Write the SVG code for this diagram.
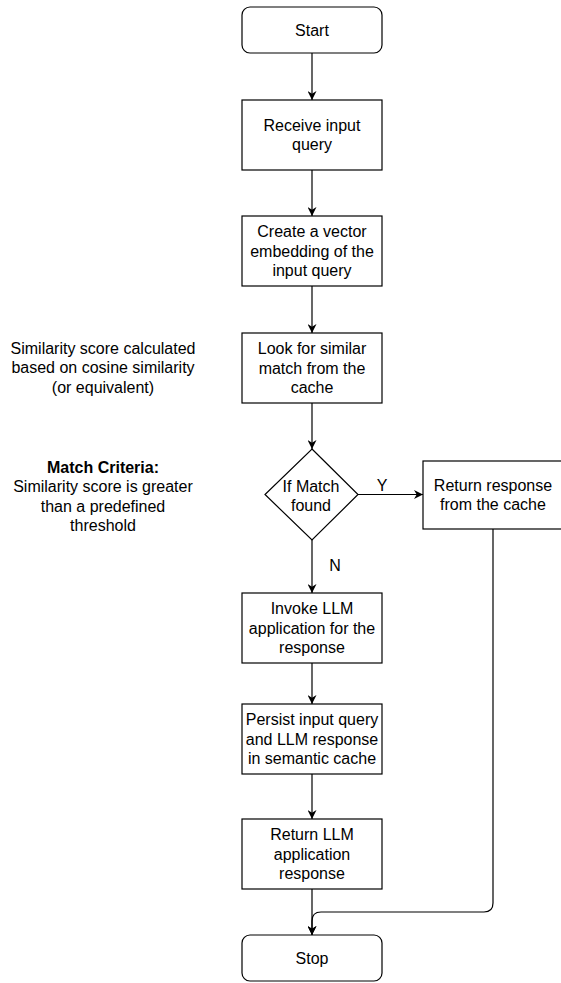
<svg xmlns="http://www.w3.org/2000/svg" width="561" height="983" viewBox="0 0 561 983">
<defs>
<style>
.box{fill:#fff;stroke:#000;stroke-width:1.2}
.t{font-family:"Liberation Sans",Arial,Helvetica,sans-serif;font-size:16px;fill:#000;text-anchor:middle}
.b{font-weight:bold}
.c{fill:none;stroke:#000;stroke-width:1.2}
</style>
<marker id="ah" viewBox="0 0 10 10" refX="10" refY="5" markerWidth="9" markerHeight="9" markerUnits="userSpaceOnUse" orient="auto">
<path d="M0,0 L10,5 L0,10 L3,5 z" fill="#000"/>
</marker>
</defs>
<rect width="561" height="983" fill="#fff"/>
<g id="connectors">
<line class="c" x1="312" y1="53" x2="312" y2="100" marker-end="url(#ah)"/>
<line class="c" x1="312" y1="170" x2="312" y2="216" marker-end="url(#ah)"/>
<line class="c" x1="312" y1="286" x2="312" y2="333" marker-end="url(#ah)"/>
<line class="c" x1="312" y1="403" x2="312" y2="449" marker-end="url(#ah)"/>
<line class="c" x1="358" y1="494.5" x2="423" y2="494.5" marker-end="url(#ah)"/>
<line class="c" x1="312" y1="540" x2="312" y2="593" marker-end="url(#ah)"/>
<line class="c" x1="312" y1="663" x2="312" y2="704" marker-end="url(#ah)"/>
<line class="c" x1="312" y1="774" x2="312" y2="819" marker-end="url(#ah)"/>
<line class="c" x1="312" y1="889" x2="312" y2="935" marker-end="url(#ah)"/>
<path class="c" d="M493,529 L493,903 Q493,912 484,912 L321,912 Q312,912 312,921 L312,935" marker-end="url(#ah)"/>
<text class="t" x="382" y="490.5">Y</text>
<text class="t" x="335" y="570.5">N</text>
</g>
<g id="start">
<rect class="box" x="242" y="7" width="140" height="46" rx="8"/>
<text class="t" x="312" y="35.5">Start</text>
</g>
<g id="receive">
<rect class="box" x="242" y="100" width="140" height="70"/>
<text class="t" x="312" y="130.9">Receive input</text>
<text class="t" x="312" y="150.1">query</text>
</g>
<g id="embed">
<rect class="box" x="242" y="216" width="140" height="70"/>
<text class="t" x="312" y="237.3">Create a vector</text>
<text class="t" x="312" y="256.5">embedding of the</text>
<text class="t" x="312" y="275.7">input query</text>
</g>
<g id="look">
<rect class="box" x="242" y="333" width="140" height="70"/>
<text class="t" x="312" y="354.3">Look for similar</text>
<text class="t" x="312" y="373.5">match from the</text>
<text class="t" x="312" y="392.7">cache</text>
</g>
<g id="decision">
<polygon class="box" points="312,449 358,494.5 312,540 265,494.5"/>
<text class="t" x="311" y="491.5">If Match</text>
<text class="t" x="311" y="510.7">found</text>
</g>
<g id="cacheResponse">
<rect class="box" x="423" y="461" width="140" height="68"/>
<text class="t" x="493" y="490.9">Return response</text>
<text class="t" x="493" y="510.1">from the cache</text>
</g>
<g id="invoke">
<rect class="box" x="242" y="593" width="140" height="70"/>
<text class="t" x="312" y="614.3">Invoke LLM</text>
<text class="t" x="312" y="633.5">application for the</text>
<text class="t" x="312" y="652.7">response</text>
</g>
<g id="persist">
<rect class="box" x="242" y="704" width="140" height="70"/>
<text class="t" x="312" y="725.3">Persist input query</text>
<text class="t" x="312" y="744.5">and LLM response</text>
<text class="t" x="312" y="763.7">in semantic cache</text>
</g>
<g id="returnLLM">
<rect class="box" x="242" y="819" width="140" height="70"/>
<text class="t" x="312" y="840.3">Return LLM</text>
<text class="t" x="312" y="859.5">application</text>
<text class="t" x="312" y="878.7">response</text>
</g>
<g id="stop">
<rect class="box" x="242" y="935" width="140" height="46" rx="8"/>
<text class="t" x="312" y="963.5">Stop</text>
</g>
<g id="note-similarity">
<text class="t" x="103" y="353.5">Similarity score calculated</text>
<text class="t" x="103" y="373">based on cosine similarity</text>
<text class="t" x="103" y="392.5">(or equivalent)</text>
</g>
<g id="note-criteria">
<text class="t b" x="103" y="472.5">Match Criteria:</text>
<text class="t" x="103" y="492">Similarity score is greater</text>
<text class="t" x="103" y="511.5">than a predefined</text>
<text class="t" x="103" y="531">threshold</text>
</g>
</svg>
